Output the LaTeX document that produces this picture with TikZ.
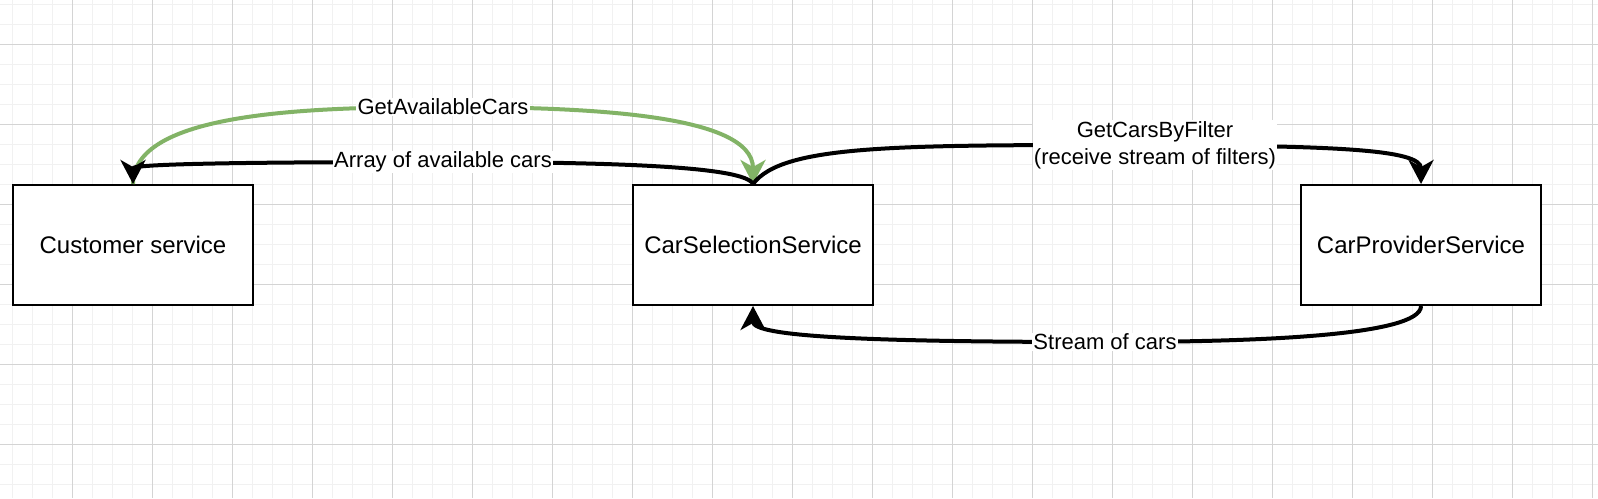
\documentclass[tikz,border=0pt]{standalone}
\usepackage{fontspec}
\setmainfont{Liberation Sans}
\usetikzlibrary{arrows.meta}
\definecolor{gridminor}{RGB}{241,241,241}
\definecolor{gridmajor}{RGB}{212,212,212}
\definecolor{callgreen}{RGB}{130,179,102}
\tikzset{
	service/.style={draw, line width=1pt, fill=white, minimum width=120pt, minimum height=60pt, font=\fontsize{12}{14}\selectfont},
	flow/.style={line width=2pt, -{Stealth[length=12pt, width=12.5pt, inset=3.5pt]}},
	flowlabel/.style={fill=white, inner sep=0.6pt, align=center, font=\fontsize{11}{13.5}\selectfont},
	minorline/.style={gridminor, line width=0.5pt},
	majorline/.style={gridmajor, line width=0.5pt}
}
\begin{document}
\begin{tikzpicture}[x=0.5pt, y=-0.5pt]
	% canvas 1598 x 498 px, y down
	\useasboundingbox (0,0) rectangle (1598,498);
	\fill[white] (0,0) rectangle (1598,498);
	
	% background grid
	\foreach \i in {0,...,79} \draw[minorline] ({12.7+20*\i},0) -- ({12.7+20*\i},498);
	\foreach \j in {0,...,24} \draw[minorline] (0,{4+20*\j}) -- (1598,{4+20*\j});
	\foreach \i in {0,...,19} \draw[majorline] ({72.7+80*\i},0) -- ({72.7+80*\i},498);
	\foreach \j in {0,...,5} \draw[majorline] (0,{44+80*\j}) -- (1598,{44+80*\j});
	
	% services
	\node[service] (customer) at (133,245) {Customer service};
	\node[service] (selection) at (753,245) {CarSelectionService};
	\node[service] (provider) at (1421,245) {CarProviderService};
	
	% calls
	\draw[flow, callgreen] (customer.north) .. controls +(0,-70) and +(-145,0) .. (443,107) node[flowlabel, text=black] {GetAvailableCars}
		.. controls +(145,0) and +(0,-70) .. (selection.north);
	\draw[flow] (selection.north) .. controls +(-8,-17) and +(180,0) .. (443,162) node[flowlabel] {Array of available cars}
		.. controls +(-200,0) and +(0,-20) .. (customer.north);
	\draw[flow] (selection.north) .. controls +(30,-40) and +(-255,0) .. (1155,145) node[flowlabel] {GetCarsByFilter\\(receive stream of filters)}
		.. controls +(175,1) and +(0,-35) .. (provider.north);
	\draw[flow] (provider.south) .. controls +(0,30) and +(150,0) .. (1105,342) node[flowlabel] {Stream of cars}
		.. controls +(-250,0) and +(0,30) .. (selection.south);
\end{tikzpicture}
\end{document}
